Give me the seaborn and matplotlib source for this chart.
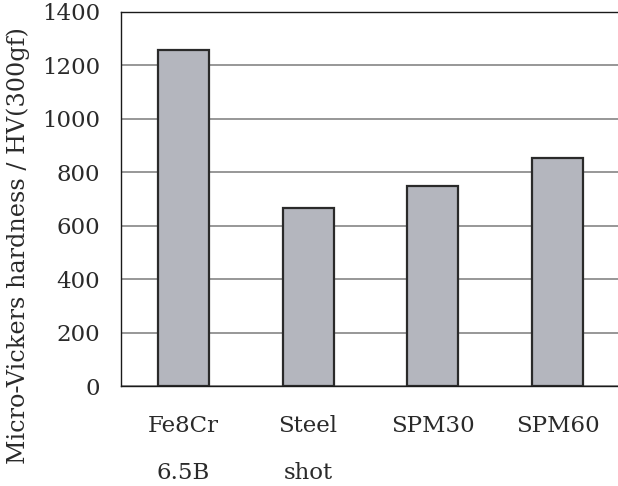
import matplotlib
matplotlib.use("Agg")
import matplotlib.pyplot as plt
import seaborn as sns
import pandas as pd

# Hardness of each shot material
materials = ["Fe8Cr\n6.5B", "Steel\nshot", "SPM30", "SPM60"]
hardness = [1258, 666, 749, 853]
y_ticks = [0, 200, 400, 600, 800, 1000, 1200, 1400]
y_label = "Micro-Vickers hardness / HV(300gf)"

sns.set_theme(style="white")
plt.rcParams["font.family"] = ["DejaVu Serif"]

df = pd.DataFrame({"material": materials, "hardness": hardness})

W, H = 618, 486
fig = plt.figure(figsize=(W / 100, H / 100), dpi=100)
ax = fig.add_axes([121 / W, 100 / H, 499 / W, 374 / H])

sns.barplot(data=df, x="material", y="hardness", ax=ax, width=0.41,
            color="#b4b6be", saturation=1, edgecolor="#2a2a2a", linewidth=1.6,
            zorder=3)

ax.set_ylim(0, 1400)
ax.set_yticks(y_ticks)
ax.set_yticklabels([str(t) for t in y_ticks])
ax.yaxis.grid(True, color="#7a7a7a", linewidth=1.1, zorder=0)
ax.xaxis.grid(False)
ax.set_axisbelow(True)

for side in ["left", "bottom", "top"]:
    ax.spines[side].set_visible(True)
    ax.spines[side].set_color("#1a1a1a")
    ax.spines[side].set_linewidth(1.0)
ax.spines["right"].set_visible(False)

ax.tick_params(axis="y", length=0, pad=15, labelsize=16.5, labelcolor="#2a2a2a")
ax.tick_params(axis="x", length=0, pad=21, labelsize=16.5, labelcolor="#2a2a2a")
for lbl in ax.get_xticklabels():
    lbl.set_linespacing(2.45)
    lbl.set_verticalalignment("top")

ax.set_xlabel("")
ax.set_ylabel(y_label, fontsize=17.2, color="#2a2a2a", rotation=90,
              ha="center", va="center", rotation_mode="default")
ax.yaxis.set_label_coords((18 - 121) / 499, (386 - 246) / 374)

fig.savefig("out.png", dpi=100)
